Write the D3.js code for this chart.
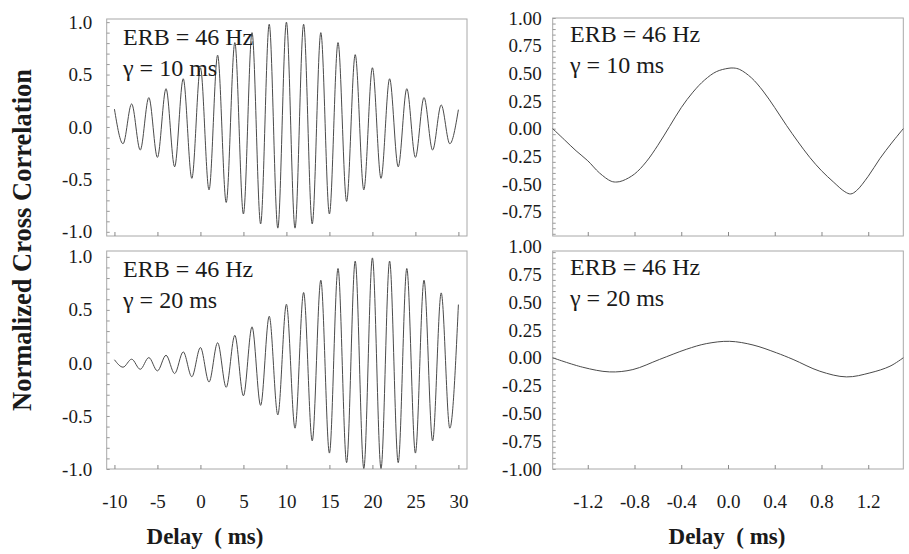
<!DOCTYPE html>
<html><head><meta charset="utf-8">
<script src="https://cdn.jsdelivr.net/npm/d3@7"></script>
<style>
body{margin:0;background:#fff}
svg{display:block}
</style>
</head><body>
<svg id="c" width="909" height="554"></svg>
<script>
// ---- data ----
const leftDelays = [-10,-9,-8,-7,-6,-5,-4,-3,-2,-1,0,1,2,3,4,5,6,7,8,9,10,11,12,13,14,15,16,17,18,19,20,21,22,23,24,25,26,27,28,29,30];
const corrGamma10 = [0.17,-0.16,0.22,-0.22,0.28,-0.29,0.365,-0.38,0.46,-0.49,0.565,-0.60,0.685,-0.72,0.805,-0.83,0.90,-0.925,0.98,-0.965,1.0,-0.965,0.98,-0.925,0.90,-0.83,0.805,-0.71,0.69,-0.60,0.565,-0.49,0.46,-0.38,0.365,-0.29,0.28,-0.22,0.21,-0.16,0.165];
const corrGamma20 = [0.03,-0.04,0.035,-0.06,0.05,-0.075,0.072,-0.10,0.104,-0.13,0.145,-0.18,0.19,-0.23,0.26,-0.31,0.34,-0.40,0.44,-0.49,0.553,-0.615,0.664,-0.735,0.78,-0.85,0.89,-0.94,0.96,-0.995,0.99,-0.995,0.96,-0.94,0.89,-0.85,0.78,-0.735,0.66,-0.615,0.55];
const rightTopDelays = [-1.5,-1.4,-1.3,-1.2,-1.1,-1.0,-0.95,-0.9,-0.8,-0.7,-0.6,-0.5,-0.4,-0.3,-0.2,-0.1,0,0.05,0.1,0.2,0.3,0.4,0.5,0.6,0.7,0.8,0.9,1.0,1.05,1.1,1.2,1.3,1.4,1.5];
const rightTopCorr = [0,-0.10,-0.20,-0.29,-0.40,-0.475,-0.482,-0.47,-0.41,-0.30,-0.15,0.02,0.19,0.33,0.44,0.515,0.545,0.548,0.535,0.46,0.34,0.19,0.03,-0.12,-0.26,-0.38,-0.48,-0.57,-0.59,-0.56,-0.43,-0.27,-0.13,0];
const rightBottomDelays = [-1.5,-1.243,-1.014,-0.814,-0.586,-0.357,-0.186,0.014,0.214,0.414,0.557,0.786,1.014,1.214,1.386,1.5];
const rightBottomCorr = [0,-0.085,-0.127,-0.106,-0.015,0.076,0.127,0.148,0.115,0.045,-0.015,-0.121,-0.172,-0.136,-0.076,0];
const leftXTicks = [-10,-5,0,5,10,15,20,25,30];
const rightXTicks = [-1.2,-0.8,-0.4,0.0,0.4,0.8,1.2];
const leftYTicks = [-1.0,-0.5,0.0,0.5,1.0];
const rightTopYTicks = [-0.75,-0.5,-0.25,0,0.25,0.5,0.75,1.0];
const rightBottomYTicks = [-1.0,-0.75,-0.5,-0.25,0,0.25,0.5,0.75,1.0];
const erbLabel = "ERB = 46 Hz";
const gammaLabels = ["γ = 10 ms", "γ = 20 ms"];
const xTitle = "Delay  ( ms)";
const yTitle = "Normalized Cross Correlation";

// ---- drawing ----
const FONT = "'Liberation Serif','Times New Roman',Times,'DejaVu Serif',serif";
const svg = d3.select("#c");
const loc = d3.formatLocale({decimal:".", thousands:",", grouping:[3], currency:["",""], minus:"-"});
const f1 = loc.format(".1f"), f2 = loc.format(".2f");

const panels = [
  {x0:106.7,x1:467,y0:19,y1:236, xd:[-10.9,31], yd:[-1.04,1.03], xs:leftDelays, ys:corrGamma10, yt:leftYTicks, fmt:f1, minor:0.1, pad:14.5, xt:leftXTicks, xl:false, xf:loc.format("d"), g:gammaLabels[0], tx:123, tb:45, curve:d3.curveMonotoneX},
  {x0:106.7,x1:467,y0:251,y1:469, xd:[-10.9,31], yd:[-1.0,1.055], xs:leftDelays, ys:corrGamma20, yt:leftYTicks, fmt:f1, minor:0.1, pad:14.5, xt:leftXTicks, xl:true, xf:loc.format("d"), g:gammaLabels[1], tx:123, tb:277, curve:d3.curveMonotoneX},
  {x0:552.7,x1:903.3,y0:18,y1:236, xd:[-1.5,1.5], yd:[-0.97,1.0], xs:rightTopDelays, ys:rightTopCorr, yt:rightTopYTicks, fmt:f2, minor:0.05, pad:11, xt:rightXTicks, xl:false, xf:f1, g:gammaLabels[0], tx:570, tb:42, curve:d3.curveCatmullRom},
  {x0:552.7,x1:903.3,y0:251,y1:469, xd:[-1.5,1.5], yd:[-1.0,0.96], xs:rightBottomDelays, ys:rightBottomCorr, yt:rightBottomYTicks, fmt:f2, minor:0.05, pad:11, xt:rightXTicks, xl:true, xf:f1, g:gammaLabels[1], tx:570, tb:275, curve:d3.curveCatmullRom}
];

panels.forEach(p => {
  const x = d3.scaleLinear().domain(p.xd).range([p.x0,p.x1]);
  const y = d3.scaleLinear().domain(p.yd).range([p.y1,p.y0]);
  const g = svg.append("g");
  g.append("rect").attr("x",p.x0).attr("y",p.y0).attr("width",p.x1-p.x0).attr("height",p.y1-p.y0)
    .attr("fill","none").attr("stroke","#a8a8a8").attr("stroke-width",1);
  const n = Math.round((p.yd[1]-p.yd[0])/p.minor)+2;
  const minorVals = d3.range(-n, n+1).map(i => +(i*p.minor).toFixed(3)).filter(v => v>=p.yd[0] && v<=p.yd[1]);
  g.append("g").attr("transform",`translate(${p.x0},0)`)
    .call(d3.axisLeft(y).tickValues(minorVals).tickSizeInner(-3).tickSizeOuter(0).tickFormat(""))
    .call(s => s.select(".domain").remove())
    .call(s => s.selectAll("line").attr("stroke","#999"));
  g.append("g").attr("transform",`translate(${p.x0},0)`)
    .call(d3.axisLeft(y).tickValues(p.yt).tickSize(0).tickPadding(p.pad).tickFormat(p.fmt))
    .call(s => s.attr("font-family",null).attr("font-size",null))
    .call(s => s.select(".domain").remove())
    .call(s => s.selectAll("text").style("font-family",FONT).style("font-size","19px").attr("fill","#1a1a1a"));
  g.append("g").attr("transform",`translate(0,${p.y1})`)
    .call(d3.axisBottom(x).tickValues(p.xt).tickSizeInner(-4).tickSizeOuter(0).tickPadding(26).tickFormat(p.xl ? p.xf : ""))
    .call(s => s.attr("font-family",null).attr("font-size",null))
    .call(s => s.select(".domain").remove())
    .call(s => s.selectAll("line").attr("stroke","#888"))
    .call(s => s.selectAll("text").style("font-family",FONT).style("font-size","19px").attr("fill","#1a1a1a"));
  const line = d3.line().x((d,i)=>x(p.xs[i])).y(d=>y(d)).curve(p.curve);
  g.append("path").datum(p.ys).attr("d",line).attr("fill","none").attr("stroke","#4a4a4a").attr("stroke-width",1);
  g.append("text").attr("x",p.tx).attr("y",p.tb).style("font-family",FONT).style("font-size","24px").attr("fill","#1a1a1a").text(erbLabel);
  g.append("text").attr("x",p.tx).attr("y",p.tb+30.5).style("font-family",FONT).style("font-size","24px").attr("fill","#1a1a1a").text(p.g);
});

[205, 727].forEach(cx => {
  svg.append("text").attr("x",cx).attr("y",544).attr("text-anchor","middle")
    .style("font-family",FONT).style("font-size","23px").style("font-weight","bold").style("white-space","pre")
    .attr("fill","#1a1a1a").text(xTitle);
});
svg.append("text").attr("transform","translate(31,240) rotate(-90)").attr("text-anchor","middle")
  .style("font-family",FONT).style("font-size","26.5px").style("font-weight","bold").attr("fill","#1a1a1a").text(yTitle);
</script>
</body></html>
